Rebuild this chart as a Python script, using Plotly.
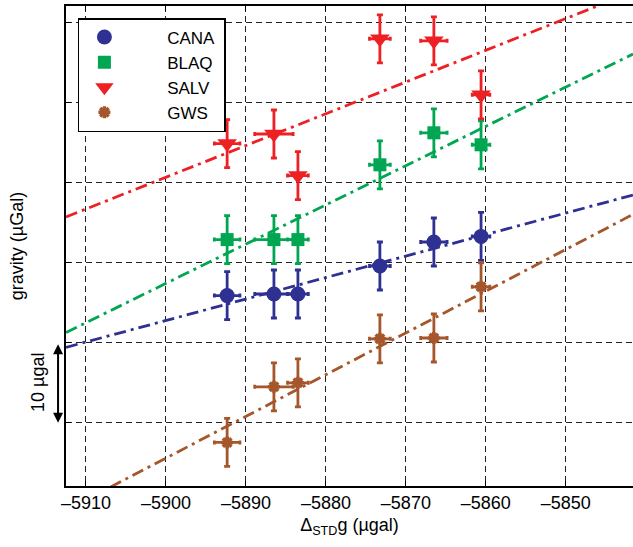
import numpy as np
import plotly.graph_objects as go

# ---- data ----
stations = ["CANA", "BLAQ", "SALV", "GWS"]
x_std = [-5892.35, -5886.5, -5883.5, -5873.25, -5866.5, -5860.6]
x_err = [1.6, 2.4, 1.3, 1.3, 1.65, 1.1]
cana = [15.9, 16.1, 16.1, 19.6, 22.6, 23.3]
blaq = [22.9, 22.9, 22.9, 32.25, 36.25, 34.75]
salv = [34.9, 36.1, 30.9, 48.0, 47.75, 41.0]
gws = [-2.45, 4.5, 5.0, 10.5, 10.6, 17.0]
y_err = [3, 3, 3, 3, 3, 3]

x_range = [-5912.5, -5841.6]
y_range = [-7.9, 52.1]
x_ticks = [-5910, -5900, -5890, -5880, -5870, -5860, -5850]
x_ticklabels = ["–5910", "–5900", "–5890", "–5880", "–5870", "–5860", "–5850"]
y_ticks = [0, 10, 20, 30, 40, 50]

colors = {"CANA": "#2E3192", "BLAQ": "#00A651", "SALV": "#ED2024", "GWS": "#A5562B"}
symbols = {"CANA": "circle", "BLAQ": "square", "SALV": "triangle-down", "GWS": "asterisk-open"}
sizes = {"CANA": 15, "BLAQ": 13, "SALV": 17, "GWS": 10}
values = {"CANA": cana, "BLAQ": blaq, "SALV": salv, "GWS": gws}

FONT = "Liberation Sans, Arial, Helvetica, sans-serif"
FS = 18

fig = go.Figure()

# fitted lines (least squares) drawn first
for s in stations:
    k, b = np.polyfit(x_std, values[s], 1)
    xs = np.array(x_range)
    fig.add_trace(go.Scatter(
        x=xs, y=k * xs + b, mode="lines", showlegend=False, hoverinfo="skip",
        line=dict(color=colors[s], width=2.8, dash="12px,5px,3px,5px"),
    ))

for s in stations:
    mk = dict(symbol=symbols[s], size=sizes[s], color=colors[s], line=dict(width=0))
    if s == "GWS":
        mk["line"] = dict(width=3.5, color=colors[s])
    fig.add_trace(go.Scatter(
        x=x_std, y=values[s], mode="markers",
        name="\u00a0" * 8 + s + "\u00a0", marker=mk,
        error_y=dict(type="data", array=y_err, color=colors[s], thickness=2.8, width=3),
        error_x=dict(type="data", array=x_err, color=colors[s], thickness=2.8, width=2),
    ))

# 10 µgal scale arrow
fig.add_annotation(
    xref="paper", yref="y", x=-0.014, y=0, axref="pixel", ayref="y", ax=0, ay=10,
    showarrow=True, arrowhead=2, startarrowhead=2, arrowside="end+start",
    arrowwidth=2, arrowsize=1, startarrowsize=1, arrowcolor="black", text="",
)
fig.add_annotation(
    xref="paper", yref="y", x=-0.049, y=5, xanchor="center", yanchor="middle",
    text="10 µgal", showarrow=False,
    textangle=-90, font=dict(family=FONT, size=FS, color="black"),
)

fig.update_xaxes(
    range=x_range, tickvals=x_ticks, ticktext=x_ticklabels, automargin=False,
    showgrid=True, gridcolor="#222222", gridwidth=1, griddash="6px,4px",
    showline=True, linecolor="black", linewidth=1.5, mirror="ticks",
    ticks="inside", ticklen=5, tickcolor="black", zeroline=False,
    tickfont=dict(family=FONT, size=FS, color="black"),
    title=dict(text="Δ<sub>STD</sub>g (µgal)", standoff=6,
               font=dict(family=FONT, size=FS, color="black")),
)
fig.update_yaxes(
    range=y_range, tickvals=y_ticks, showticklabels=False, automargin=False,
    showgrid=True, gridcolor="#222222", gridwidth=1, griddash="6px,4px",
    showline=True, linecolor="black", linewidth=1.5, mirror=False,
    ticks="inside", ticklen=5, tickcolor="black", zeroline=False,
    title=dict(text="gravity (µGal)", standoff=36,
               font=dict(family=FONT, size=FS, color="black")),
)

fig.update_layout(
    width=633, height=547,
    margin=dict(l=66, r=0, t=6, b=61),
    paper_bgcolor="white", plot_bgcolor="white",
    font=dict(family=FONT, size=FS, color="black"),
    legend=dict(
        x=0.021, y=0.975, xanchor="left", yanchor="top",
        bgcolor="white", bordercolor="black", borderwidth=1.5,
        font=dict(family=FONT, size=17, color="black"),
        itemwidth=40, tracegroupgap=0,
    ),
    showlegend=True,
)

fig.write_html("out.html", config={"displayModeBar": False},
               post_script="document.body.style.margin='0px';")
